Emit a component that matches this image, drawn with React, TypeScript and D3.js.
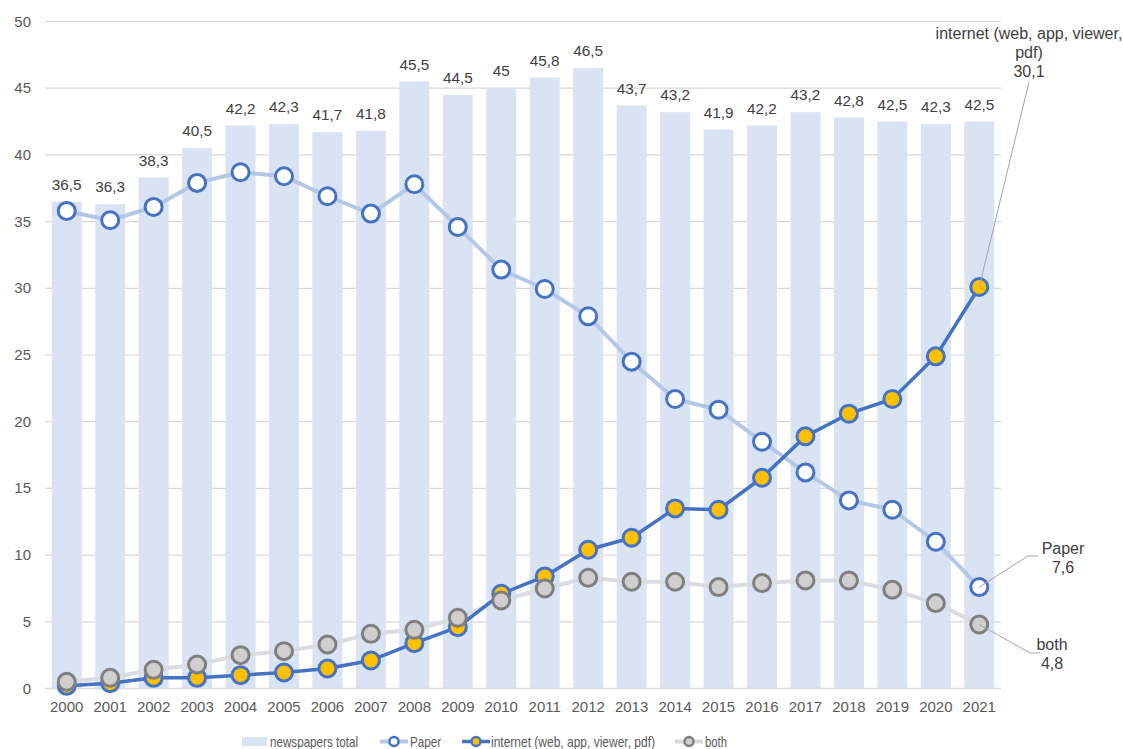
import React from "react";
import * as d3 from "d3";

const years = ["2000","2001","2002","2003","2004","2005","2006","2007","2008","2009","2010","2011","2012","2013","2014","2015","2016","2017","2018","2019","2020","2021"];
const totalValues = [36.5,36.3,38.3,40.5,42.2,42.3,41.7,41.8,45.5,44.5,45,45.8,46.5,43.7,43.2,41.9,42.2,43.2,42.8,42.5,42.3,42.5];
const paperValues = [35.8,35.1,36.1,37.9,38.7,38.4,36.9,35.6,37.8,34.6,31.4,29.95,27.9,24.5,21.7,20.9,18.5,16.2,14.1,13.4,11.0,7.6];
const internetValues = [0.2,0.4,0.8,0.8,1.0,1.2,1.5,2.1,3.4,4.6,7.1,8.4,10.4,11.3,13.5,13.4,15.8,18.9,20.6,21.7,24.9,30.1];
const bothValues = [0.5,0.8,1.4,1.8,2.5,2.8,3.3,4.1,4.4,5.3,6.6,7.5,8.3,8.0,8.0,7.6,7.9,8.1,8.1,7.4,6.4,4.8];
const yTicks = [0,5,10,15,20,25,30,35,40,45,50];
const legendLabels = ["newspapers total","Paper","internet (web, app, viewer, pdf)","both"];

const W = 1123, H = 749;
const FONT = "'Liberation Sans', Arial, sans-serif";
const fmt = (v: number) => String(v).replace(".", ",");

export default function App() {
  const x = d3.scaleBand<string>().domain(years).range([45, 1001]).paddingInner(0.31).paddingOuter(0.155);
  const y = d3.scaleLinear().domain([0, 50]).range([688.5, 21.5]);
  const cx = (i: number) => (x(years[i]) as number) + x.bandwidth() / 2;
  const line = d3.line<number>().x((_, i) => cx(i)).y((v) => y(v));
  const last = years.length - 1;

  return (
    <svg width={W} height={H} style={{ position: "absolute", left: 0, top: 0, background: "#fff" }} fontFamily={FONT}>
      {yTicks.map((t) => (
        <g key={t}>
          <line x1={45} x2={1001} y1={y(t)} y2={y(t)} stroke="#D9D9D9" strokeWidth={1.2} />
          <text x={31} y={y(t) + 5} textAnchor="end" fontSize={15} fill="#595959">{t}</text>
        </g>
      ))}
      {totalValues.map((v, i) => (
        <g key={years[i]}>
          <rect x={x(years[i])} y={y(v)} width={x.bandwidth()} height={y(0) - y(v)} fill="#DAE3F3" />
          <text x={cx(i)} y={y(v) - 12} textAnchor="middle" fontSize={15.3} fill="#404040">{fmt(v)}</text>
        </g>
      ))}
      <line x1={45} x2={1001} y1={y(0)} y2={y(0)} stroke="#D9D9D9" strokeWidth={1.5} />
      {years.map((yr, i) => (
        <text key={yr} x={cx(i)} y={712} textAnchor="middle" fontSize={15} fill="#595959">{yr}</text>
      ))}

      <path d={line(paperValues) as string} fill="none" stroke="#B4C7E7" strokeWidth={4} strokeLinejoin="round" />
      <path d={line(bothValues) as string} fill="none" stroke="#D9DDE3" strokeWidth={4} strokeLinejoin="round" />
      <path d={line(internetValues) as string} fill="none" stroke="#4472C4" strokeWidth={3.5} strokeLinejoin="round" />

      {paperValues.map((v, i) => (
        <circle key={"p" + i} cx={cx(i)} cy={y(v)} r={8.5} fill="#fff" stroke="#4472C4" strokeWidth={3} />
      ))}
      {internetValues.map((v, i) => (
        <circle key={"i" + i} cx={cx(i)} cy={y(v)} r={8.5} fill="#FFC000" stroke="#4472C4" strokeWidth={3} />
      ))}
      {bothValues.map((v, i) => (
        <circle key={"b" + i} cx={cx(i)} cy={y(v)} r={8.5} fill="#D0CECE" stroke="#7F7F7F" strokeWidth={3} />
      ))}

      {/* annotations */}
      <line x1={1029} y1={82} x2={cx(last)} y2={y(internetValues[last])} stroke="#A6A6A6" strokeWidth={1} />
      <text textAnchor="middle" fontSize={16} fill="#404040">
        <tspan x={1029} y={39}>internet (web, app, viewer,</tspan>
        <tspan x={1029} y={58}>pdf)</tspan>
        <tspan x={1029} y={77}>{fmt(internetValues[last])}</tspan>
      </text>
      <polyline points={`${cx(last)},${y(paperValues[last])} 1028,556 1038,556`} fill="none" stroke="#A6A6A6" strokeWidth={1} />
      <text textAnchor="middle" fontSize={16} fill="#404040">
        <tspan x={1063} y={554}>{legendLabels[1]}</tspan>
        <tspan x={1063} y={573}>{fmt(paperValues[last])}</tspan>
      </text>
      <polyline points={`${cx(last)},${y(bothValues[last])} 1030,653 1040,653`} fill="none" stroke="#A6A6A6" strokeWidth={1} />
      <text textAnchor="middle" fontSize={16} fill="#404040">
        <tspan x={1052} y={650}>{legendLabels[3]}</tspan>
        <tspan x={1052} y={669}>{fmt(bothValues[last])}</tspan>
      </text>

      {/* legend */}
      <g fontSize={15} fill="#595959">
        <rect x={242} y={737} width={25} height={9} fill="#DAE3F3" />
        <text x={270} y={746.5} textLength={88} lengthAdjust="spacingAndGlyphs">{legendLabels[0]}</text>

        <line x1={380} x2={408} y1={741.5} y2={741.5} stroke="#B4C7E7" strokeWidth={4} />
        <circle cx={394} cy={741.5} r={4.5} fill="#fff" stroke="#4472C4" strokeWidth={2.5} />
        <text x={410} y={746.5} textLength={31} lengthAdjust="spacingAndGlyphs">{legendLabels[1]}</text>

        <line x1={462} x2={490} y1={741.5} y2={741.5} stroke="#4472C4" strokeWidth={3.5} />
        <circle cx={476} cy={741.5} r={4.5} fill="#FFC000" stroke="#4472C4" strokeWidth={2.5} />
        <text x={491} y={746.5} textLength={164} lengthAdjust="spacingAndGlyphs">{legendLabels[2]}</text>

        <line x1={675} x2={703} y1={741.5} y2={741.5} stroke="#D9DDE3" strokeWidth={4} />
        <circle cx={689} cy={741.5} r={4.5} fill="#D0CECE" stroke="#7F7F7F" strokeWidth={2.5} />
        <text x={705} y={746.5} textLength={22} lengthAdjust="spacingAndGlyphs">{legendLabels[3]}</text>
      </g>
    </svg>
  );
}
